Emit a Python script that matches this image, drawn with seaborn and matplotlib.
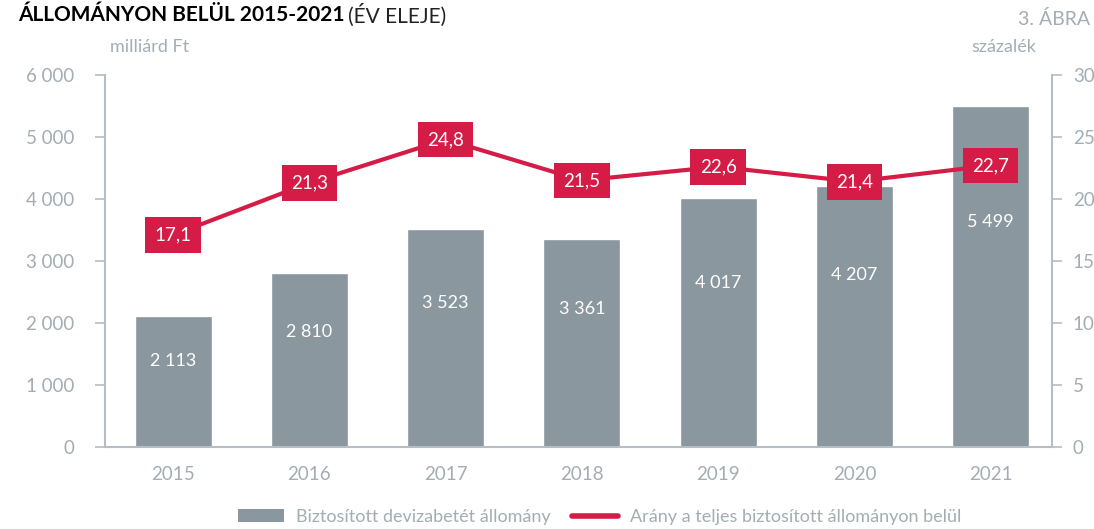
import matplotlib
matplotlib.use("Agg")
import matplotlib.pyplot as plt
import seaborn as sns
import numpy as np
import pandas as pd
from matplotlib.patches import Patch
from matplotlib.lines import Line2D
from matplotlib.ticker import FuncFormatter

# Data / adatok
years = ["2015", "2016", "2017", "2018", "2019", "2020", "2021"]
deposits = [2113, 2810, 3523, 3361, 4017, 4207, 5499]   # milliárd Ft
ratio = [17.1, 21.3, 24.8, 21.5, 22.6, 21.4, 22.7]       # százalék

BAR_GRAY = "#8A979F"
CRIMSON = "#D41C47"
TEXT_GRAY = "#A3ADB4"
SPINE_GRAY = "#B5BEC4"

sns.set_style("white")
plt.rcParams['font.family'] = ['Lato', 'DejaVu Sans']

df = pd.DataFrame({'year': years, 'deposit': deposits})

fig = plt.figure(figsize=(10.94, 5.29), dpi=100)
ax = fig.add_axes([105 / 1094, 1 - 447 / 529, (1052 - 105) / 1094, (447 - 75) / 529])

sns.barplot(data=df, x='year', y='deposit', color=BAR_GRAY, saturation=1,
            width=0.565, ax=ax)
ax.set_xlim(-0.5, 6.45)
ax.set_ylim(0, 6000)
ax.set_yticks(np.arange(0, 6001, 1000))
ax.yaxis.set_major_formatter(FuncFormatter(lambda v, p: f"{v:,.0f}".replace(",", " ")))
ax.set_xlabel("")
ax.set_ylabel("")

# bar value labels / oszlopcímkék
for i, v in enumerate(deposits):
    ax.text(i, v * 0.66, f"{v:,}".replace(",", " "), ha='center', va='center',
            color='white', fontsize=13)

# ratio line on secondary axis / arány a másodlagos tengelyen
ax2 = ax.twinx()
sns.lineplot(x=np.arange(len(ratio)), y=ratio, color=CRIMSON, linewidth=3, ax=ax2)
ax2.set_ylim(0, 30)
ax2.set_yticks(np.arange(0, 31, 5))
for i, v in enumerate(ratio):
    ax2.text(i, v, f"{v:.1f}".replace(".", ","), ha='center', va='center',
             color='white', fontsize=13.5,
             bbox=dict(boxstyle='square,pad=0.5', fc=CRIMSON, ec='none'))

for a in (ax, ax2):
    for s in a.spines.values():
        s.set_visible(False)
    a.tick_params(axis='y', colors=SPINE_GRAY, labelcolor=TEXT_GRAY, labelsize=13.5,
                  length=7, width=1.2, pad=15)
ax.spines['left'].set_visible(True)
ax.spines['left'].set_color(SPINE_GRAY)
ax.spines['left'].set_linewidth(1.5)
ax.spines['bottom'].set_visible(True)
ax.spines['bottom'].set_color(SPINE_GRAY)
ax.spines['bottom'].set_linewidth(1.5)
ax2.spines['right'].set_visible(True)
ax2.spines['right'].set_color(SPINE_GRAY)
ax2.spines['right'].set_linewidth(1.5)
ax.tick_params(axis='x', length=0, labelcolor=TEXT_GRAY, labelsize=13.5, pad=14)
ax2.tick_params(axis='y', pad=8)

# axis unit labels / mértékegységek
fig.text(110 / 1094, 1 - 47 / 529, "milliárd Ft", color=TEXT_GRAY, fontsize=13,
         ha='left', va='center')
fig.text(1036 / 1094, 1 - 47 / 529, "százalék", color=TEXT_GRAY, fontsize=13,
         ha='right', va='center')

# title / cím
t1 = fig.text(18 / 1094, 1 - 15 / 529, "ÁLLOMÁNYON BELÜL 2015-2021", color='black',
              fontsize=15, fontweight='bold', ha='left', va='center')
fig.canvas.draw()
bb = t1.get_window_extent()
fig.text((bb.x1 + 4) / 1094, 1 - 15 / 529, "(ÉV ELEJE)", color='#222222',
         fontsize=15, ha='left', va='center')
fig.text(1090 / 1094, 1 - 19 / 529, "3. ÁBRA", color=TEXT_GRAY, fontsize=14,
         ha='right', va='center')

# legend / jelmagyarázat
handles = [Patch(facecolor=BAR_GRAY, edgecolor='none'),
           Line2D([0], [0], color=CRIMSON, linewidth=4, solid_capstyle='round')]
labels = ["Biztosított devizabetét állomány", "Arány a teljes biztosított állományon belül"]
leg = fig.legend(handles, labels, loc='center', bbox_to_anchor=(600 / 1094, 1 - 517 / 529),
                 ncol=2, frameon=False, fontsize=13, handlelength=2.5, handleheight=0.7,
                 columnspacing=1.2, handletextpad=0.7)
for txt in leg.get_texts():
    txt.set_color(TEXT_GRAY)

fig.savefig("out.png", dpi=100)
